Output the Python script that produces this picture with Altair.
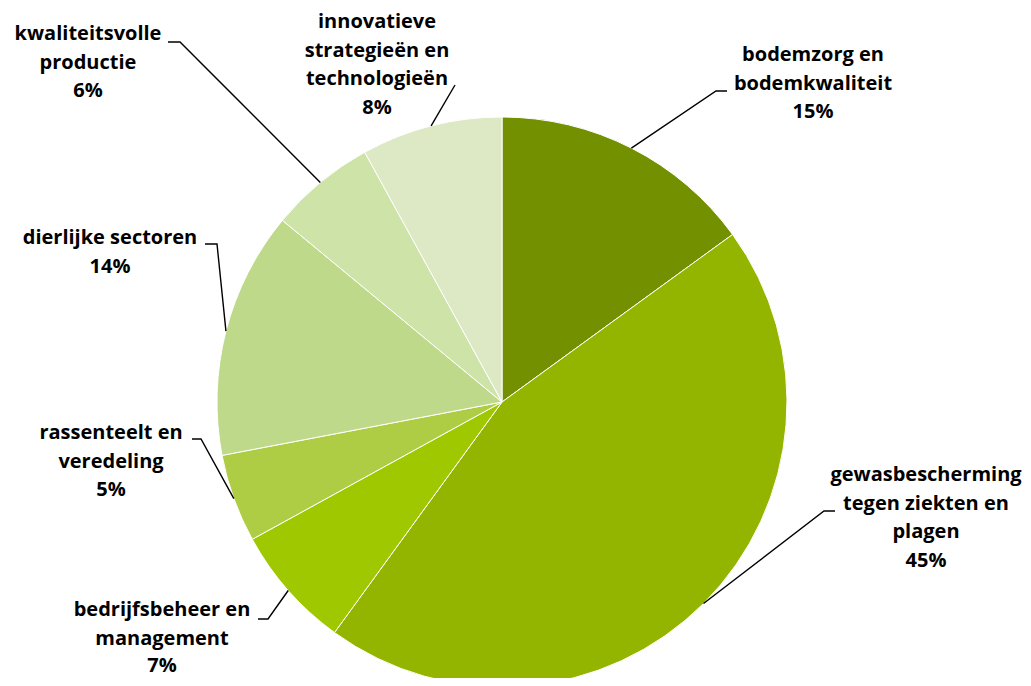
import math
import altair as alt
import pandas as pd

# ---- data ----
categories = [
    "bodemzorg en bodemkwaliteit",
    "gewasbescherming tegen ziekten en plagen",
    "bedrijfsbeheer en management",
    "rassenteelt en veredeling",
    "dierlijke sectoren",
    "kwaliteitsvolle productie",
    "innovatieve strategieën en technologieën",
]
values = [15, 45, 7, 5, 14, 6, 8]
label_lines = [
    ["bodemzorg en", "bodemkwaliteit"],
    ["gewasbescherming", "tegen ziekten en", "plagen"],
    ["bedrijfsbeheer en", "management"],
    ["rassenteelt en", "veredeling"],
    ["dierlijke sectoren"],
    ["kwaliteitsvolle", "productie"],
    ["innovatieve", "strategieën en", "technologieën"],
]
colors = ["#739000", "#93b500", "#a0c800", "#aecd45", "#bfd98a", "#cde3a8", "#dde9c4"]

# ---- layout (plot coordinates, px) ----
W, H = 1015, 670
CX, CY, R = 494, 394, 285
LH = 28.5
label_first = [(805, 47), (918, 467), (154, 602), (103, 425), (102, 230), (80, 26), (369, 14)]
stub_pts = [(719, 83), (827, 503), (250, 611), (184, 431), (197, 236), (160, 34), (447, 77)]
elbow_pts = [(708, 83), (816, 503), (260, 611), (193, 431), (209, 236), (172, 34), (447, 77)]

pie_df = pd.DataFrame({"cat": categories, "value": values, "order": range(len(values))})

# text rows
txt_rows = []
for i, (lines, v) in enumerate(zip(label_lines, values)):
    all_lines = lines + [f"{v}%"]
    x0, y0 = label_first[i]
    for j, t in enumerate(all_lines):
        lh = LH if not (i == 2 and j == 2) else LH - 1.5
        txt_rows.append({"x": x0, "y": y0 + j * LH - (1.5 if (i == 2 and j == 2) else 0), "t": t})
txt_df = pd.DataFrame(txt_rows)

# leader lines: stub -> elbow -> slice mid-angle on the rim
total = sum(values)
line_rows = []
cum = 0
for i, v in enumerate(values):
    mid = (cum + v / 2) / total * 2 * math.pi
    cum += v
    ax = CX + R * math.sin(mid)
    ay = CY - R * math.cos(mid)
    pts = [stub_pts[i], elbow_pts[i], (ax, ay)]
    for k, (px, py) in enumerate(pts):
        line_rows.append({"cat": categories[i], "k": k, "x": px, "y": py})
line_df = pd.DataFrame(line_rows)

xs = alt.Scale(domain=[0, W])
ys = alt.Scale(domain=[H, 0])

pie = alt.Chart(pie_df).mark_arc(outerRadius=R, stroke="white", strokeWidth=1).encode(
    theta=alt.Theta("value:Q", stack=True),
    order=alt.Order("order:Q"),
    color=alt.Color("cat:N", scale=alt.Scale(domain=categories, range=colors), legend=None),
    x=alt.value(CX),
    y=alt.value(CY),
)

leaders = alt.Chart(line_df).mark_line(color="black", strokeWidth=1.4).encode(
    x=alt.X("x:Q", scale=xs, axis=None),
    y=alt.Y("y:Q", scale=ys, axis=None),
    detail="cat:N",
    order="k:Q",
)

labels = alt.Chart(txt_df).mark_text(
    font="Open Sans", fontSize=20, fontWeight="bold", color="black", align="center", baseline="middle"
).encode(
    x=alt.X("x:Q", scale=xs, axis=None),
    y=alt.Y("y:Q", scale=ys, axis=None),
    text="t:N",
)

chart = alt.layer(pie, leaders, labels).properties(
    width=W, height=H, padding=0, autosize=alt.AutoSizeParams(type="none")
).configure_view(stroke=None)

chart.save("out.html", embed_options={"renderer": "svg", "actions": False})
